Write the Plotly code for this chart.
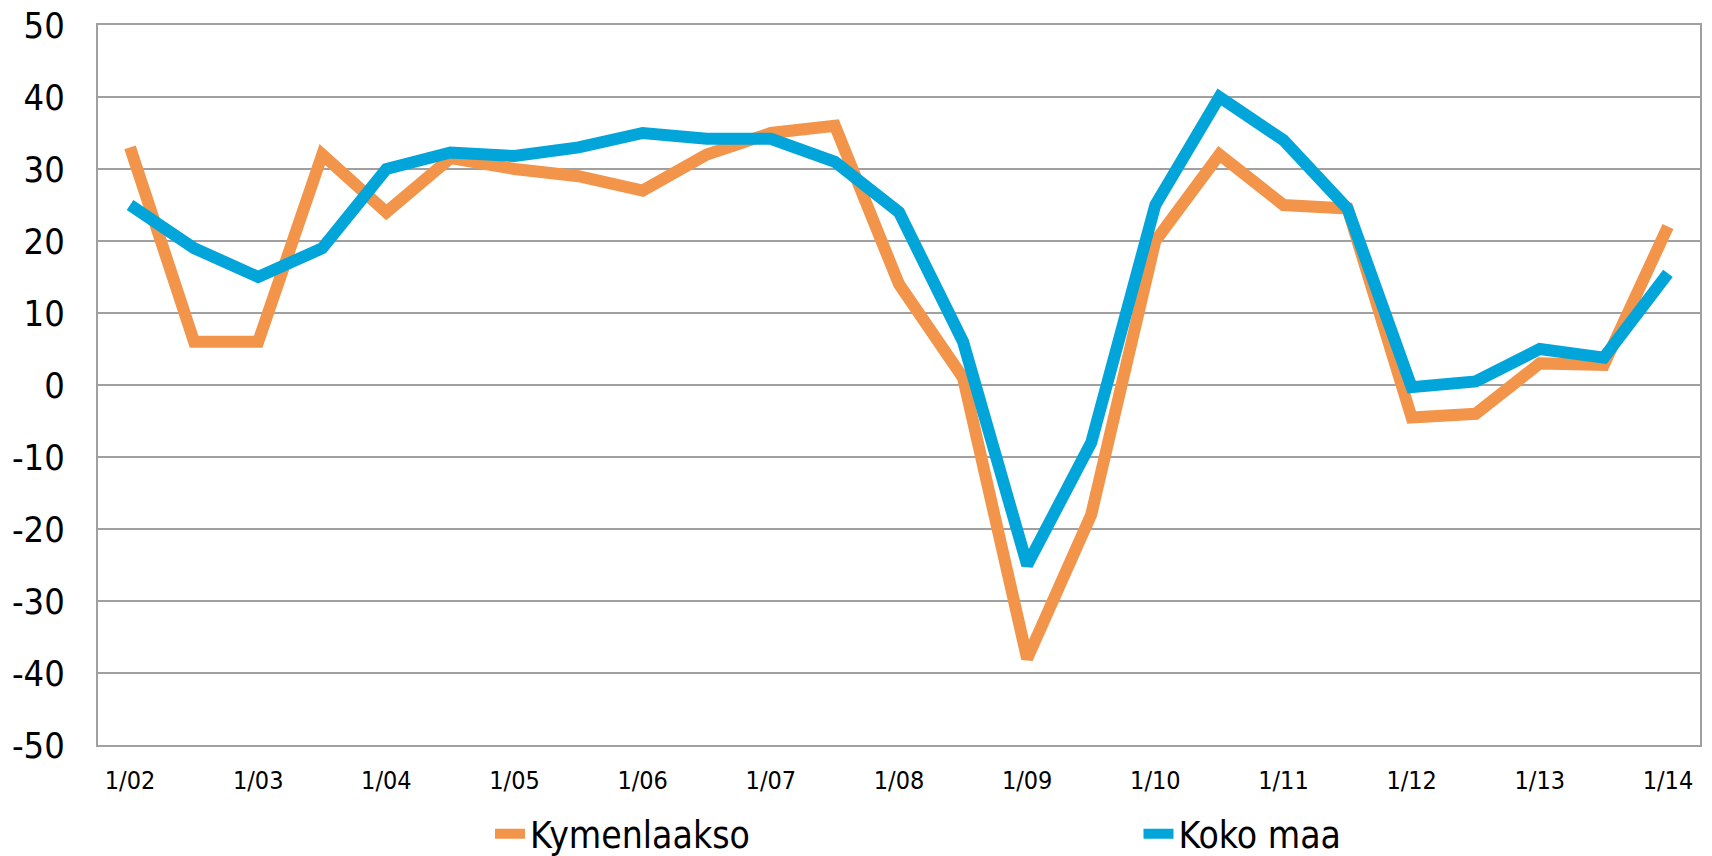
import plotly.graph_objects as go

categories = []
for yr in range(2, 15):
    categories.append(f"1/{yr:02d}")
    if yr < 14:
        categories.append(f"7/{yr:02d}")

tick_labels = [f"1/{yr:02d}" for yr in range(2, 15)]
y_ticks = [-50, -40, -30, -20, -10, 0, 10, 20, 30, 40, 50]

kymenlaakso = [33, 6, 6, 32, 24, 31.5, 30, 29, 27, 32, 35, 36, 14, 1,
               -38, -18, 20, 32, 25, 24.5, -4.5, -4, 3, 2.8, 22]
koko_maa = [25, 19, 15, 19, 30, 32.3, 31.8, 33, 35, 34.2, 34.2, 31, 24, 6,
            -25, -8, 25, 40, 34, 24.5, -0.3, 0.5, 5, 3.8, 15.5]

FONT = "DejaVu Sans Condensed, Tahoma, DejaVu Sans, sans-serif"

fig = go.Figure()
fig.add_trace(go.Scatter(x=categories, y=kymenlaakso, mode="lines", name="Kymenlaakso",
                         line=dict(color="#F2954B", width=12), legend="legend"))
fig.add_trace(go.Scatter(x=categories, y=koko_maa, mode="lines", name="Koko maa",
                         line=dict(color="#02A5D9", width=12), legend="legend2"))

leg_common = dict(orientation="h", yanchor="middle", y=-0.124, xanchor="left",
                  font=dict(size=37, family=FONT), bgcolor="rgba(0,0,0,0)",
                  borderwidth=0)

fig.update_layout(
    width=1712, height=856,
    margin=dict(l=98, r=12, t=25, b=111, autoexpand=False),
    plot_bgcolor="white", paper_bgcolor="white",
    font=dict(family=FONT, color="black"),
    showlegend=True,
    legend=dict(x=0.2447, **leg_common),
    legend2=dict(x=0.6495, **leg_common),
    xaxis=dict(type="category", categoryorder="array", categoryarray=categories,
               range=[-0.5, len(categories) - 0.5],
               tickmode="array", tickvals=tick_labels, ticktext=tick_labels,
               showgrid=False, showline=True, linecolor="#A0A0A0", linewidth=2, mirror=True,
               ticks="", tickfont=dict(size=25, family=FONT), ticklabelstandoff=12),
    yaxis=dict(range=[-50, 50], tickmode="array", tickvals=y_ticks,
               ticktext=[str(v) for v in y_ticks],
               showgrid=True, gridcolor="#A0A0A0", gridwidth=1.5,
               zeroline=False, showline=True, linecolor="#A0A0A0", linewidth=2, mirror=True,
               ticks="", tickfont=dict(size=36, family=FONT), ticklabelstandoff=24),
)

fig.write_html("out.html", config={"displayModeBar": False},
               post_script="document.body.style.margin='0';document.body.style.overflow='hidden';")
